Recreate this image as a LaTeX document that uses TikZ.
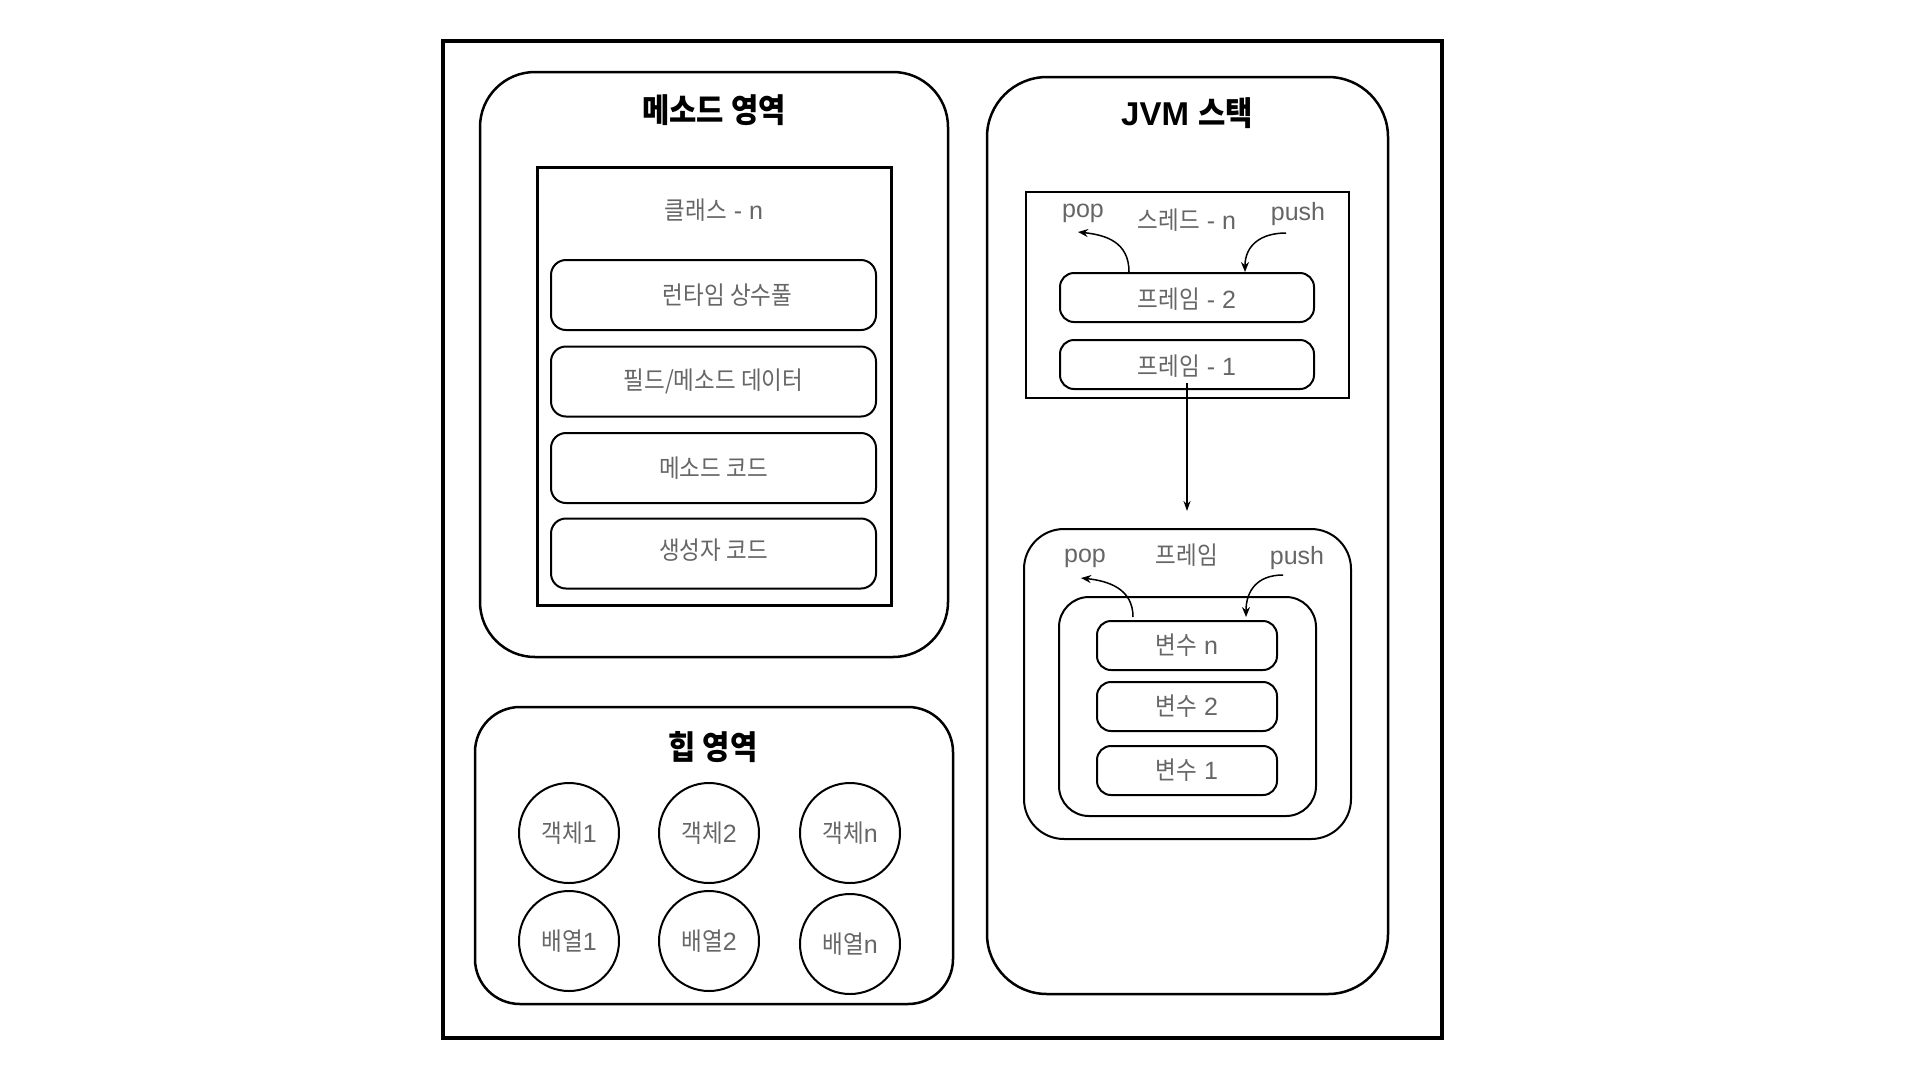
\documentclass[tikz,border=0pt]{standalone}
\usepackage{fontspec}
\setmainfont{Liberation Sans}
\newfontfamily\kr[FakeStretch=0.9]{Noto Sans CJK KR}
\usetikzlibrary{arrows.meta}
\definecolor{txtgray}{HTML}{666666}
\begin{document}
\begin{tikzpicture}[x=1pt,y=-1pt,
  area/.style={draw, line width=2.5pt, rounded corners=#1, inner sep=0pt},
  sharpbox/.style={draw, line width=#1, inner sep=0pt},
  itembox/.style={draw, line width=2pt, rounded corners=#1, inner sep=0pt},
  ball/.style={draw, circle, line width=2pt, minimum size=100pt, inner sep=0pt,
    text=txtgray, font=\fontsize{25}{30}\selectfont},
  lbl/.style={text=txtgray, font=\fontsize{25}{30}\selectfont, inner sep=0pt},
  ttl/.style={text=black, font=\fontsize{33}{38}\selectfont\bfseries, inner sep=0pt},
  conn/.style={-{Stealth[length=10pt,width=8pt]}, line width=1.5pt}
]
\useasboundingbox (0,0) rectangle (1920,1080);
\fill[white] (0,0) rectangle (1920,1080);

% outer frame
\node[sharpbox=4pt, minimum width=999pt, minimum height=997pt] (frame) at (942.5,539.5) {};

% method area
\node[area=55pt, minimum width=468pt, minimum height=585pt] (method) at (714,364.5) {};
\node[ttl] (methodT) at (714,110) {\kr 메소드 영역};
\node[sharpbox=3pt, minimum width=354pt, minimum height=438pt] (class) at (714,386) {};
\node[lbl] (classT) at (714,210) {{\kr 클래스} - n};
\node[itembox=15pt, minimum width=325pt, minimum height=70pt] (rt) at (713.5,295) {};
\node[lbl] (rtT) at ([xshift=14pt]rt.center) {\kr 런타임 상수풀};
\node[itembox=15pt, minimum width=325pt, minimum height=70pt] (fd) at (713.5,381.5) {};
\node[lbl] (fdT) at (fd.center) {\kr 필드/메소드 데이터};
\node[itembox=15pt, minimum width=325pt, minimum height=70pt] (mc) at (713.5,468) {};
\node[lbl] (mcT) at (mc.center) {\kr 메소드 코드};
\node[itembox=15pt, minimum width=325pt, minimum height=70pt] (cc) at (713.5,553.5) {};
\node[lbl] (ccT) at ([yshift=3pt]cc.center) {\kr 생성자 코드};

% heap area
\node[area=45pt, minimum width=478pt, minimum height=297pt] (heap) at (714,855.5) {};
\node[ttl] (heapT) at (713,747) {\kr 힙 영역};
\node[ball] (o1) at (569,833) {{\kr 객체}1};
\node[ball] (o2) at (709,833) {{\kr 객체}2};
\node[ball] (on) at (850,833) {{\kr 객체}n};
\node[ball] (a1) at (569,941) {{\kr 배열}1};
\node[ball] (a2) at (709,941) {{\kr 배열}2};
\node[ball] (an) at (850,944) {{\kr 배열}n};

% JVM stack
\node[area=60pt, minimum width=401pt, minimum height=917pt] (jvm) at (1187.5,535.5) {};
\node[ttl] (jvmT) at (1187,113) {JVM {\kr 스택}};

% thread box
\node[sharpbox=2pt, minimum width=323pt, minimum height=206pt] (thread) at (1187.5,295) {};
\node[lbl] (tpop) at (1083,213) {pop};
\node[lbl] (threadT) at (1187,220) {{\kr 스레드} - n};
\node[lbl] (tpush) at (1298,214) {push};
\node[itembox=14pt, minimum width=254pt, minimum height=49pt] (f2) at (1187,297.5) {};
\node[lbl] (f2T) at ([yshift=-2pt]f2.center) {{\kr 프레임} - 2};
\node[itembox=14pt, minimum width=254pt, minimum height=49pt] (f1) at (1187,364.5) {};
\node[lbl] (f1T) at ([yshift=-2pt]f1.center) {{\kr 프레임} - 1};

\coordinate (tpopE) at (1078,232);
\coordinate (tpushS) at (1286,233);
\draw[conn] ([xshift=-58pt]f2.north) .. controls +(0,-30) and +(28,3) .. (tpopE);
\draw[conn] (tpushS) .. controls +(-26,0) and +(0,-26) .. ([xshift=58pt]f2.north);

% frame -> frame detail
\coordinate (ftip) at (1187,511);
\draw[-{Stealth[length=10pt,width=7pt]}, line width=1.5pt] ([yshift=7pt]f1.south) -- (ftip);

% frame detail
\node[itembox=40pt, minimum width=327pt, minimum height=310pt] (fr) at (1187.5,684) {};
\node[lbl] (fpop) at (1085,558) {pop};
\node[lbl] (frT) at (1187,555) {\kr 프레임};
\node[lbl] (fpush) at (1297,558) {push};
\node[itembox=30pt, minimum width=257pt, minimum height=219pt] (inner) at (1187.5,706.5) {};
\node[itembox=14pt, minimum width=180pt, minimum height=49pt] (vn) at (1187,645.5) {};
\node[lbl] (vnT) at (vn.center) {{\kr 변수} n};
\node[itembox=14pt, minimum width=180pt, minimum height=49pt] (v2) at (1187,706.5) {};
\node[lbl] (v2T) at (v2.center) {{\kr 변수} 2};
\node[itembox=14pt, minimum width=180pt, minimum height=49pt] (v1) at (1187,770.5) {};
\node[lbl] (v1T) at (v1.center) {{\kr 변수} 1};

\coordinate (fpopS) at (1133,617);
\coordinate (fpopE) at (1081,578);
\coordinate (fpushS) at (1283,575);
\coordinate (fpushE) at (1246,617);
\draw[conn] (fpopS) .. controls +(0,-28) and +(28,3) .. (fpopE);
\draw[conn] (fpushS) .. controls +(-26,0) and +(0,-26) .. (fpushE);
\end{tikzpicture}
\end{document}
